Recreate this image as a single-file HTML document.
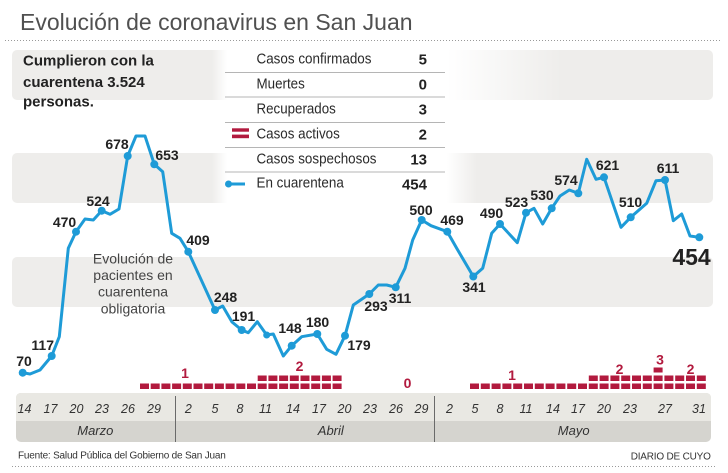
<!DOCTYPE html>
<html>
<head>
<meta charset="utf-8">
<style>
html,body{margin:0;padding:0;background:#fff;}
svg{display:block;}
text{font-family:"Liberation Sans",Arial,sans-serif;}
</style>
</head>
<body>
<svg width="728" height="473" viewBox="0 0 728 473" xmlns="http://www.w3.org/2000/svg">
<defs>
  <linearGradient id="fadeR1" x1="0" x2="1" y1="0" y2="0">
    <stop offset="0" stop-color="#fff" stop-opacity="1"/>
    <stop offset="1" stop-color="#fff" stop-opacity="0"/>
  </linearGradient>
  <linearGradient id="fadeL" x1="0" x2="1" y1="0" y2="0">
    <stop offset="0" stop-color="#fff" stop-opacity="0"/>
    <stop offset="1" stop-color="#fff" stop-opacity="1"/>
  </linearGradient>
</defs>

<!-- Title -->
<text x="20" y="30" font-size="23" fill="#505050">Evolución de coronavirus en San Juan</text>
<line x1="5" y1="40.5" x2="720" y2="40.5" stroke="#9a9a9a" stroke-width="1" stroke-dasharray="1,2"/>

<!-- Bands -->
<rect x="12" y="50" width="701" height="50" rx="5" fill="#eeedeb"/>
<rect x="12" y="153" width="701" height="50" rx="5" fill="#eeedeb"/>
<rect x="12" y="257" width="701" height="50" rx="5" fill="#eeedeb"/>

<!-- Legend white overlay -->
<rect x="212" y="45" width="15" height="160" fill="url(#fadeL)"/>
<rect x="227" y="45" width="220" height="160" fill="#fff"/>
<rect x="447" y="45" width="115" height="57" fill="url(#fadeR1)"/>
<rect x="447" y="102" width="30" height="103" fill="url(#fadeR1)"/>

<!-- Cumplieron text -->
<text font-size="15" font-weight="bold" fill="#222">
  <tspan x="23" y="65.5">Cumplieron con la</tspan>
  <tspan x="23" y="87">cuarentena 3.524</tspan>
  <tspan x="23" y="106.5">personas.</tspan>
</text>

<!-- Legend table -->
<g stroke="#b5b5b5" stroke-width="1">
  <line x1="225" y1="72.5" x2="445" y2="72.5"/>
  <line x1="225" y1="97" x2="445" y2="97"/>
  <line x1="225" y1="122.5" x2="445" y2="122.5"/>
  <line x1="225" y1="147.5" x2="445" y2="147.5"/>
  <line x1="225" y1="172" x2="445" y2="172"/>
</g>
<g font-size="14.5" fill="#2a2a2a">
  <text x="256.5" y="63.5" textLength="115" lengthAdjust="spacingAndGlyphs">Casos confirmados</text>
  <text x="256.5" y="88.5" textLength="48.3" lengthAdjust="spacingAndGlyphs">Muertes</text>
  <text x="256.5" y="113.5" textLength="79.3" lengthAdjust="spacingAndGlyphs">Recuperados</text>
  <text x="256.5" y="138.3" textLength="83.3" lengthAdjust="spacingAndGlyphs">Casos activos</text>
  <text x="256.5" y="163.3" textLength="120" lengthAdjust="spacingAndGlyphs">Casos sospechosos</text>
  <text x="256.5" y="187.7" textLength="87.3" lengthAdjust="spacingAndGlyphs">En cuarentena</text>
</g>
<g font-size="15" font-weight="bold" fill="#222" text-anchor="end">
  <text x="427" y="64.5">5</text>
  <text x="427" y="89.5">0</text>
  <text x="427" y="114.5">3</text>
  <text x="427" y="139.5">2</text>
  <text x="427" y="164.5">13</text>
  <text x="427" y="189.5">454</text>
</g>
<rect x="232" y="128.3" width="17" height="3.4" fill="#b21a3e"/>
<rect x="232" y="134.6" width="17" height="3.6" fill="#b21a3e"/>
<line x1="228.5" y1="184" x2="245" y2="184" stroke="#1e9bd7" stroke-width="3"/>
<circle cx="228.5" cy="184" r="3.5" fill="#1e9bd7"/>

<!-- Annotation -->
<g font-size="14" fill="#444" text-anchor="middle">
  <text x="133" y="263.5">Evolución de</text>
  <text x="133" y="280">pacientes en</text>
  <text x="133" y="296.7">cuarentena</text>
  <text x="133" y="313.3">obligatoria</text>
</g>

<!-- Line -->
<polyline fill="none" stroke="#1e9bd7" stroke-width="3" stroke-linejoin="round" stroke-linecap="round"
points="22.7,372.7 30,374 40,370 51.7,356 59.3,336.7 68.3,248.3 76,231.7 85,219 93.3,220 101.7,210.7 110,214.3 119,209 127.7,156 136,136 145,136 154.3,164.3 162.7,171.7 171.7,233.3 180,238.3 188.3,251.7 215,310 222.7,306 232,322 241.7,330 248.3,332.7 257.3,321.7 266.7,335 273.3,334 283.3,356 291.7,345.7 301.7,336.7 317.3,334 326.7,349.3 336,354.3 345,335.7 353.3,305 369.3,294 378.3,285 386.7,285 395.7,287.3 405,268.3 412.7,240 421.7,220 431,225.7 447.3,231.7 456.7,248.3 473.3,276.5 482.7,268.3 491.7,233.3 500,224 517.3,242.7 526,212.7 534,208.3 542.7,224 551.7,208.3 560,196 569.3,190 578.3,193.3 586.7,159.3 596,179.3 604,177.3 621,227.3 630.7,217.3 646.7,203.3 656,180.7 665,180 673.3,220.7 681.7,214 690,236 699.3,237.3"/>
<g fill="#1e9bd7">
  <circle cx="22.7" cy="372.7" r="4"/>
  <circle cx="51.7" cy="356" r="4"/>
  <circle cx="76" cy="231.7" r="4"/>
  <circle cx="101.7" cy="210.7" r="4"/>
  <circle cx="127.7" cy="156" r="4"/>
  <circle cx="154.3" cy="164.3" r="4"/>
  <circle cx="188.3" cy="251.7" r="4"/>
  <circle cx="215" cy="310" r="4"/>
  <circle cx="241.7" cy="330" r="4"/>
  <circle cx="266.7" cy="335" r="3.5"/>
  <circle cx="291.7" cy="345.7" r="4"/>
  <circle cx="317.3" cy="334" r="4"/>
  <circle cx="345" cy="335.7" r="4"/>
  <circle cx="369.3" cy="294" r="4"/>
  <circle cx="395.7" cy="287.3" r="4"/>
  <circle cx="421.7" cy="220" r="4"/>
  <circle cx="447.3" cy="231.7" r="4"/>
  <circle cx="473.3" cy="276.5" r="4"/>
  <circle cx="500" cy="224" r="4"/>
  <circle cx="526" cy="212.7" r="4"/>
  <circle cx="551.7" cy="208.3" r="4"/>
  <circle cx="578.3" cy="193.3" r="4"/>
  <circle cx="604" cy="177.3" r="4"/>
  <circle cx="630.7" cy="217.3" r="4"/>
  <circle cx="665" cy="180" r="4"/>
  <circle cx="699.3" cy="237.3" r="4"/>
</g>

<!-- Line labels -->
<g font-size="14" font-weight="bold" fill="#222" text-anchor="middle">
  <text x="24" y="366">70</text>
  <text x="42.7" y="350">117</text>
  <text x="64.5" y="227">470</text>
  <text x="98" y="206">524</text>
  <text x="117" y="149">678</text>
  <text x="167" y="160">653</text>
  <text x="198" y="245">409</text>
  <text x="225.5" y="302">248</text>
  <text x="243.5" y="321">191</text>
  <text x="290" y="333">148</text>
  <text x="317.5" y="327">180</text>
  <text x="359" y="350">179</text>
  <text x="376" y="311">293</text>
  <text x="400" y="303">311</text>
  <text x="421" y="215">500</text>
  <text x="452" y="225">469</text>
  <text x="474" y="292">341</text>
  <text x="491.5" y="218">490</text>
  <text x="516.5" y="207">523</text>
  <text x="542" y="200">530</text>
  <text x="566" y="185">574</text>
  <text x="607.5" y="170">621</text>
  <text x="630.5" y="207">510</text>
  <text x="668" y="173">611</text>
</g>
<text x="691.5" y="265" font-size="23" font-weight="bold" fill="#222" text-anchor="middle">454</text>

<!-- Active cases squares -->
<g fill="#b21a3e">
  <!-- group 1 row 1: 19 squares -->
  <rect x="140.0" y="383.5" width="9" height="5.5"/><rect x="150.7" y="383.5" width="9" height="5.5"/>
  <rect x="161.4" y="383.5" width="9" height="5.5"/><rect x="172.1" y="383.5" width="9" height="5.5"/>
  <rect x="182.8" y="383.5" width="9" height="5.5"/><rect x="193.5" y="383.5" width="9" height="5.5"/>
  <rect x="204.2" y="383.5" width="9" height="5.5"/><rect x="214.9" y="383.5" width="9" height="5.5"/>
  <rect x="225.6" y="383.5" width="9" height="5.5"/><rect x="236.3" y="383.5" width="9" height="5.5"/>
  <rect x="247.0" y="383.5" width="9" height="5.5"/><rect x="257.7" y="383.5" width="9" height="5.5"/>
  <rect x="268.4" y="383.5" width="9" height="5.5"/><rect x="279.1" y="383.5" width="9" height="5.5"/>
  <rect x="289.8" y="383.5" width="9" height="5.5"/><rect x="300.5" y="383.5" width="9" height="5.5"/>
  <rect x="311.2" y="383.5" width="9" height="5.5"/><rect x="321.9" y="383.5" width="9" height="5.5"/>
  <rect x="332.6" y="383.5" width="9" height="5.5"/>
  <!-- group 1 row 2: 8 squares -->
  <rect x="257.7" y="375.5" width="9" height="5.5"/><rect x="268.4" y="375.5" width="9" height="5.5"/>
  <rect x="279.1" y="375.5" width="9" height="5.5"/><rect x="289.8" y="375.5" width="9" height="5.5"/>
  <rect x="300.5" y="375.5" width="9" height="5.5"/><rect x="311.2" y="375.5" width="9" height="5.5"/>
  <rect x="321.9" y="375.5" width="9" height="5.5"/><rect x="332.6" y="375.5" width="9" height="5.5"/>
  <!-- May row 1: 22 squares -->
  <rect x="470.0" y="383.5" width="9" height="5.5"/><rect x="480.8" y="383.5" width="9" height="5.5"/>
  <rect x="491.6" y="383.5" width="9" height="5.5"/><rect x="502.4" y="383.5" width="9" height="5.5"/>
  <rect x="513.2" y="383.5" width="9" height="5.5"/><rect x="524.0" y="383.5" width="9" height="5.5"/>
  <rect x="534.8" y="383.5" width="9" height="5.5"/><rect x="545.6" y="383.5" width="9" height="5.5"/>
  <rect x="556.4" y="383.5" width="9" height="5.5"/><rect x="567.2" y="383.5" width="9" height="5.5"/>
  <rect x="578.0" y="383.5" width="9" height="5.5"/><rect x="588.8" y="383.5" width="9" height="5.5"/>
  <rect x="599.6" y="383.5" width="9" height="5.5"/><rect x="610.4" y="383.5" width="9" height="5.5"/>
  <rect x="621.2" y="383.5" width="9" height="5.5"/><rect x="632.0" y="383.5" width="9" height="5.5"/>
  <rect x="642.8" y="383.5" width="9" height="5.5"/><rect x="653.6" y="383.5" width="9" height="5.5"/>
  <rect x="664.4" y="383.5" width="9" height="5.5"/><rect x="675.2" y="383.5" width="9" height="5.5"/>
  <rect x="686.0" y="383.5" width="9" height="5.5"/><rect x="696.8" y="383.5" width="9" height="5.5"/>
  <!-- May row 2: 11 squares -->
  <rect x="588.8" y="375.5" width="9" height="5.5"/><rect x="599.6" y="375.5" width="9" height="5.5"/>
  <rect x="610.4" y="375.5" width="9" height="5.5"/><rect x="621.2" y="375.5" width="9" height="5.5"/>
  <rect x="632.0" y="375.5" width="9" height="5.5"/><rect x="642.8" y="375.5" width="9" height="5.5"/>
  <rect x="653.6" y="375.5" width="9" height="5.5"/><rect x="664.4" y="375.5" width="9" height="5.5"/>
  <rect x="675.2" y="375.5" width="9" height="5.5"/><rect x="686.0" y="375.5" width="9" height="5.5"/>
  <rect x="696.8" y="375.5" width="9" height="5.5"/>
  <!-- May row 3 -->
  <rect x="653.6" y="367.5" width="9" height="5"/>
</g>
<g font-size="14" font-weight="bold" fill="#b21a3e" text-anchor="middle">
  <text x="185" y="378">1</text>
  <text x="299.5" y="371">2</text>
  <text x="407.5" y="388">0</text>
  <text x="512" y="380">1</text>
  <text x="619.5" y="374">2</text>
  <text x="660" y="364.5">3</text>
  <text x="690.5" y="374">2</text>
</g>

<!-- Axis bar -->
<rect x="16" y="393" width="695" height="49" rx="5" fill="#d5d4cf"/>
<path d="M16,421 V398 Q16,393 21,393 H706 Q711,393 711,398 V421 Z" fill="#e9e8e3"/>
<line x1="175.5" y1="396" x2="175.5" y2="442" stroke="#6a6a6a" stroke-width="1"/>
<line x1="434.5" y1="396" x2="434.5" y2="442" stroke="#6a6a6a" stroke-width="1"/>
<g font-size="12.5" font-style="italic" fill="#333" text-anchor="middle">
  <text x="24.5" y="413">14</text>
  <text x="50.5" y="413">17</text>
  <text x="76.5" y="413">20</text>
  <text x="102" y="413">23</text>
  <text x="128" y="413">26</text>
  <text x="154" y="413">29</text>
  <text x="188.3" y="413">2</text>
  <text x="215" y="413">5</text>
  <text x="240" y="413">8</text>
  <text x="265.5" y="413">11</text>
  <text x="293" y="413">14</text>
  <text x="319" y="413">17</text>
  <text x="344.5" y="413">20</text>
  <text x="370" y="413">23</text>
  <text x="396" y="413">26</text>
  <text x="421.5" y="413">29</text>
  <text x="449.5" y="413">2</text>
  <text x="475" y="413">5</text>
  <text x="500" y="413">8</text>
  <text x="526" y="413">11</text>
  <text x="553" y="413">14</text>
  <text x="578" y="413">17</text>
  <text x="604" y="413">20</text>
  <text x="630" y="413">23</text>
  <text x="665" y="413">27</text>
  <text x="699" y="413">31</text>
</g>
<g font-size="13" font-style="italic" fill="#333" text-anchor="middle">
  <text x="95.3" y="435">Marzo</text>
  <text x="330.8" y="435">Abril</text>
  <text x="573.7" y="435">Mayo</text>
</g>

<!-- Footer -->
<text x="18" y="458.5" font-size="10" letter-spacing="-0.2" fill="#333">Fuente: Salud Pública del Gobierno de San Juan</text>
<text x="710.7" y="459.5" font-size="10" letter-spacing="-0.2" fill="#333" text-anchor="end">DIARIO DE CUYO</text>
<line x1="12" y1="466.5" x2="717" y2="466.5" stroke="#9a9a9a" stroke-width="1" stroke-dasharray="1,2"/>
</svg>
</body>
</html>
